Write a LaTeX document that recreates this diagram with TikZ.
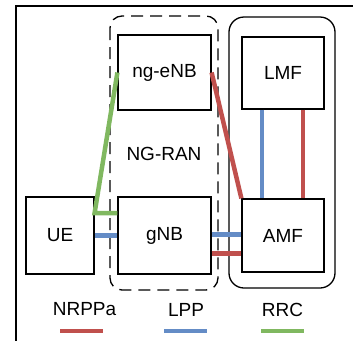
\documentclass[tikz,border=0pt]{standalone}
\usepackage{fontspec}
\setmainfont{Liberation Sans}
\usetikzlibrary{calc}
\definecolor{nrred}{RGB}{192,80,77}
\definecolor{lpblue}{RGB}{100,140,198}
\definecolor{rrgreen}{RGB}{128,184,96}
\tikzset{
  blk/.style={draw,line width=1.2bp,inner sep=0pt},
  nrppa/.style={nrred,line width=4.5bp},
  lpp/.style={lpblue,line width=4.5bp},
  rrc/.style={rrgreen,line width=4.5bp},
}
\begin{document}
\begin{tikzpicture}[x=1bp,y=-1bp,font=\fontsize{19bp}{22bp}\selectfont]%positioning
\useasboundingbox (0,0) rectangle (353,341);
\draw[line width=1.5bp] (16,341)--(16,6)--(353,6);
%groups
\draw[line width=1.3bp,dash pattern=on 12bp off 7bp,rounded corners=12bp] (110,16) rectangle (218,290);
\draw[line width=1.3bp,rounded corners=15bp] (229,17) rectangle (335,288);
%boxes
\node[blk,minimum width=93bp,minimum height=75bp] (ngenb) at (164.5,72.5) {ng-eNB};
\node[blk,minimum width=82bp,minimum height=72bp] (lmf) at (283,73) {LMF};
\node[blk,minimum width=68bp,minimum height=77bp] (ue) at (60,235.5) {UE};
\node[blk,minimum width=93bp,minimum height=77bp] (gnb) at (164.5,235.5) {gNB};
\node[blk,minimum width=82bp,minimum height=73bp] (amf) at (283,235.5) {AMF};
\node (ngran) at (164,154) {NG-RAN};
%interfaces
\draw[rrc] (ngenb.west) -- (ue.east |- 0,213) -- (gnb.west |- 0,213);
\draw[lpp] (ue.east) -- (gnb.west);
\draw[nrppa] (ngenb.east) -- (amf.north west);
\draw[lpp] ([xshift=-21bp]lmf.south) -- ([xshift=-21bp]amf.north);
\draw[nrppa] ([xshift=20bp]lmf.south) -- ([xshift=20bp]amf.north);
\draw[lpp] ([yshift=1bp]gnb.east) -- ([yshift=1bp]amf.west);
\draw[nrppa] ([yshift=-18bp]gnb.east) -- ([yshift=-18bp]amf.west);
%legend
\node (lgnrppa) at (84.5,309.5) {NRPPa};
\node (lglpp) at (186,309.5) {LPP};
\node (lgrrc) at (282.5,309.5) {RRC};
\draw[nrppa] (60,331) -- (103,331);
\draw[lpp] (164,331) -- (207,331);
\draw[rrc] (261,331) -- (304,331);
\end{tikzpicture}
\end{document}
